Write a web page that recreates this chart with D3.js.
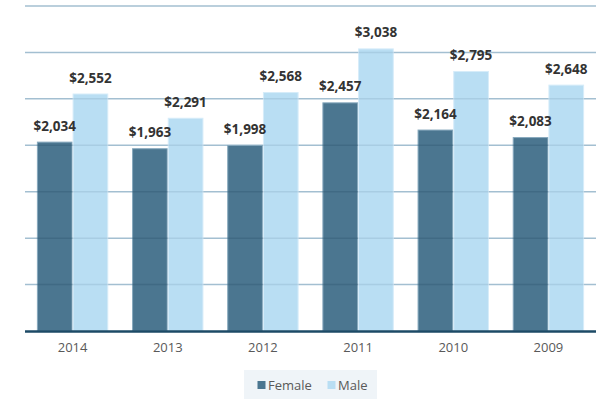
<!DOCTYPE html>
<html><head><meta charset="utf-8">
<script src="https://cdn.jsdelivr.net/npm/d3@7"></script>
<style>body{margin:0;background:#fff;} svg{display:block;font-family:"Open Sans",sans-serif;}</style>
</head><body>
<svg id="c" width="599" height="401"></svg>
<script>
const categories = ["2014","2013","2012","2011","2010","2009"];
const seriesNames = ["Female","Male"];
const female = [2034,1963,1998,2457,2164,2083];
const male = [2552,2291,2568,3038,2795,2648];
const yTicks = [0,500,1000,1500,2000,2500,3000,3500];
const colors = {Female:"#4b7690", Male:"#b9def3"};

const svg = d3.select("#c");
const x0 = d3.scaleBand().domain(categories).range([25,596]).paddingInner(0.25).paddingOuter(0.125);
const x1 = d3.scaleBand().domain(seriesNames).range([0,x0.bandwidth()]);
const y = d3.scaleLinear().domain([0,3500]).range([331,6]);

svg.append("g").selectAll("line").data(yTicks.slice(1)).join("line")
  .attr("x1",25).attr("x2",596).attr("y1",d=>y(d)).attr("y2",d=>y(d))
  .attr("stroke","#a3bfd1").attr("stroke-width",1.5);

const data = categories.map((c,i)=>({cat:c, vals:[{k:"Female",v:female[i]},{k:"Male",v:male[i]}]}));
const g = svg.append("g").selectAll("g").data(data).join("g")
  .attr("transform",d=>`translate(${x0(d.cat)},0)`);
const bars = g.selectAll("g.bar").data(d=>d.vals).join("g").attr("class","bar");
bars.append("rect")
  .attr("x",d=>x1(d.k)+0.5).attr("width",x1.bandwidth()-1)
  .attr("y",d=>y(d.v)).attr("height",d=>y(0)-y(d.v))
  .attr("fill",d=>colors[d.k])
  .attr("stroke",d=>d.k==="Female"?"#86a8bd":"#d6ecf9").attr("stroke-width",1);
// gridlines showing faintly through bars
bars.each(function(d){
  d3.select(this).selectAll("line").data(yTicks.filter(t=>t>0 && t<d.v)).join("line")
    .attr("x1",x1(d.k)).attr("x2",x1(d.k)+x1.bandwidth())
    .attr("y1",t=>y(t)).attr("y2",t=>y(t))
    .attr("stroke","#2f5670").attr("stroke-opacity",d.k==="Female"?0.35:0.12).attr("stroke-width",1.5);
});
g.selectAll("text").data(d=>d.vals).join("text")
  .attr("x",d=>x1(d.k)+x1.bandwidth()/2).attr("y",d=>y(d.v)-11.5)
  .attr("text-anchor","middle").attr("font-size",13.5).attr("font-weight","bold").attr("fill","#333")
  .text(d=>"$"+d3.format(",")(d.v));

// baseline
svg.append("line").attr("x1",25).attr("x2",596).attr("y1",y(0)+0.5).attr("y2",y(0)+0.5)
  .attr("stroke","#1c4a66").attr("stroke-width",2.5);

// x axis
const xa = svg.append("g").attr("transform",`translate(0,${y(0)})`).call(d3.axisBottom(x0).tickSize(0).tickPadding(12));
xa.select(".domain").remove();
xa.selectAll("text").attr("font-size",13).attr("fill","#595959").attr("font-family","Open Sans, sans-serif");

// legend
const lg = svg.append("g");
lg.append("rect").attr("x",244).attr("y",370).attr("width",133).attr("height",29).attr("fill","#eff4f8");
const items = [{k:"Female",x:257.5,tx:268},{k:"Male",x:327.5,tx:338}];
items.forEach(it=>{
  lg.append("rect").attr("x",it.x).attr("y",381).attr("width",8).attr("height",8).attr("fill",colors[it.k]);
  lg.append("text").attr("x",it.tx).attr("y",389.5).attr("font-size",13).attr("fill","#595959").text(it.k);
});
</script>
</body></html>
